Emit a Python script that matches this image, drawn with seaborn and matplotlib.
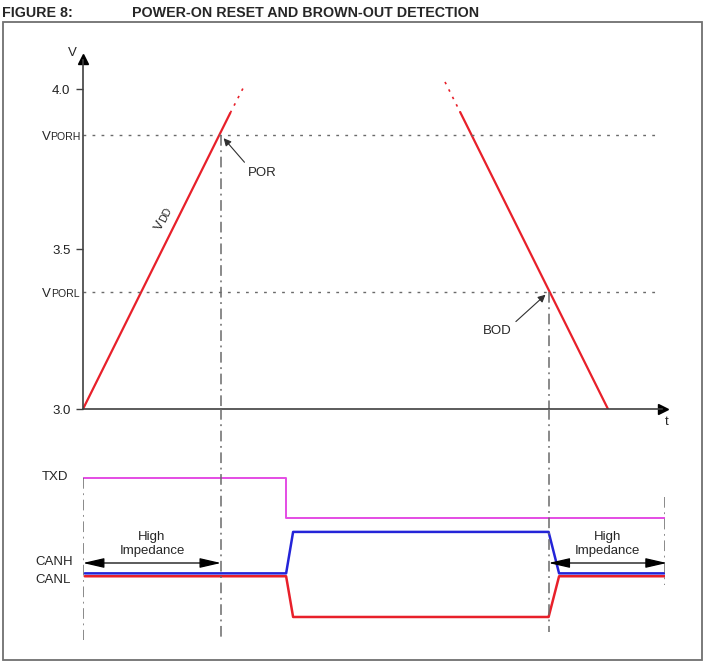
import numpy as np
import matplotlib.pyplot as plt
import seaborn as sns
from matplotlib.patches import Rectangle

# VDD ramp (time in arbitrary units, volts)
rise_t = [0.0, 2.53]
rise_v = [3.0, 3.925]
rise_dot_t = [2.53, 2.78]
rise_dot_v = [3.925, 4.013]
fall_dot_t = [6.22, 6.48]
fall_dot_v = [4.022, 3.928]
fall_t = [6.48, 9.02]
fall_v = [3.928, 3.0]

v_porh = 3.856
v_porl = 3.366
t_por = 2.37
t_bod = 8.0
v_ticks = [3.0, 3.5, 4.0]
v_labels = ['3.0', '3.5', '4.0']

# bus signals (level units)
txd_t = [0.0, 3.49, 3.49, 10.0]
txd_lvl = [7.14, 7.14, 5.48, 5.48]
can_t = [0.03, 3.49, 3.61, 8.0, 8.18, 10.0]
canh_lvl = [3.18, 3.18, 4.9, 4.9, 3.18, 3.18]
canl_lvl = [3.06, 3.06, 1.37, 1.37, 3.06, 3.06]

sns.set_theme(style='white')
plt.rcParams['font.family'] = ['Liberation Sans', 'DejaVu Sans']

RED = '#e8202a'
BLUE = '#2424d8'
MAG = '#e44ce4'
GREY = '#6a6a6a'
AXC = '#404040'
DASHDOT = (0, (7, 3, 1.2, 3))
DOTTED = (0, (2, 4.5))
FS = 9.5

fig = plt.figure(figsize=(7.05, 6.62), dpi=100)
ax = fig.add_axes([83 / 705, 253 / 662, 582 / 705, 354 / 662])
ax2 = fig.add_axes([83 / 705, 12 / 662, 582 / 705, 241 / 662])
for a in (ax, ax2):
    a.patch.set_visible(False)
    a.set_xlim(0, 10)

# ---- upper panel: supply voltage ----
ax.set_ylim(3.0, 4.10625)
sns.lineplot(x=rise_t, y=rise_v, ax=ax, color=RED, lw=1.6, estimator=None, sort=False)
sns.lineplot(x=fall_t, y=fall_v, ax=ax, color=RED, lw=1.6, estimator=None, sort=False)
sns.lineplot(x=rise_dot_t, y=rise_dot_v, ax=ax, color=RED, lw=1.2, ls=(0, (1.5, 3.5)),
             estimator=None, sort=False)
sns.lineplot(x=fall_dot_t, y=fall_dot_v, ax=ax, color=RED, lw=1.2, ls=(0, (1.5, 3.5)),
             estimator=None, sort=False)

ax.hlines([v_porh, v_porl], 0, 9.9, colors=GREY, lw=1, linestyles=[DOTTED])
ax.plot([t_por, t_por], [v_porh, 3.0], color=GREY, lw=1.1, ls=DASHDOT)
ax.plot([t_bod, t_bod], [v_porl, 3.0], color=GREY, lw=1.1, ls=DASHDOT)

for s in ['top', 'right']:
    ax.spines[s].set_visible(False)
for s in ['left', 'bottom']:
    ax.spines[s].set_color(AXC)
    ax.spines[s].set_linewidth(1.2)
ax.spines['left'].set_bounds(3.0, 4.09)
ax.spines['bottom'].set_bounds(0, 9.95)
ax.plot([0], [4.095], marker='^', ms=6.5, color='black', clip_on=False)
ax.plot([9.966], [3.0], marker='>', ms=6.5, color='black', clip_on=False)

ax.set_xticks([])
ax.set_yticks(v_ticks)
ax.set_yticklabels(v_labels)
ax.tick_params(axis='y', left=True, length=5, width=1, color=AXC, pad=4,
               labelsize=FS, labelcolor='#202020')
ax.set_xlabel('')
ax.set_ylabel('')

ax.annotate('V', xy=(0, 1), xycoords='axes fraction', xytext=(-7.5, 1.5),
            textcoords='offset points', ha='center', va='center', fontsize=FS)
ax.annotate('t', xy=(1, 0), xycoords='axes fraction', xytext=(1.5, -9.5),
            textcoords='offset points', ha='center', va='center', fontsize=FS)

for lvl, sub in [(v_porh, 'PORH'), (v_porl, 'PORL')]:
    ax.annotate(sub, xy=(0, lvl), xycoords=('axes fraction', 'data'), xytext=(-2, -3.4),
                textcoords='offset points', ha='right', va='baseline', fontsize=7.6)
    ax.annotate('V', xy=(0, lvl), xycoords=('axes fraction', 'data'), xytext=(-23.5, -3.4),
                textcoords='offset points', ha='right', va='baseline', fontsize=FS)

# VDD label along the rising edge
t_lab = 1.519
v_lab = np.interp(t_lab, rise_t, rise_v)
ax.annotate('V', xy=(t_lab, v_lab), xytext=(-7.6, 0), textcoords='offset points',
            ha='left', va='baseline', rotation=63.6, rotation_mode='anchor', fontsize=FS)
ax.annotate('DD', xy=(t_lab, v_lab), xytext=(-4.8, 5.7), textcoords='offset points',
            ha='left', va='baseline', rotation=63.6, rotation_mode='anchor', fontsize=7.6)

arrow = dict(arrowstyle='-|>', color='#303030', lw=0.8, mutation_scale=11, shrinkA=1, shrinkB=3)
ax.annotate('POR', xy=(t_por, v_porh), xytext=(30, -27), textcoords='offset points',
            ha='center', va='center', fontsize=FS,
            arrowprops=dict(arrow, relpos=(0.0, 1.0)))
ax.annotate('BOD', xy=(t_bod, v_porl), xytext=(-37, -28.5), textcoords='offset points',
            ha='center', va='center', fontsize=FS,
            arrowprops=dict(arrow, relpos=(1.0, 1.0)))

# ---- lower panel: bus signals ----
ax2.set_ylim(0, 10)
ax2.axis('off')
sns.lineplot(x=txd_t, y=txd_lvl, ax=ax2, color=MAG, lw=1.4, estimator=None, sort=False)
sns.lineplot(x=can_t, y=canl_lvl, ax=ax2, color=RED, lw=1.8, estimator=None, sort=False)
sns.lineplot(x=can_t, y=canh_lvl, ax=ax2, color=BLUE, lw=1.8, estimator=None, sort=False)

ax2.plot([0, 0], [txd_lvl[0], 0.41], color=GREY, lw=1.1, ls=DASHDOT)
ax2.plot([t_por, t_por], [10, 0.41], color=GREY, lw=1.1, ls=DASHDOT)
ax2.plot([t_bod, t_bod], [10, 0.75], color=GREY, lw=1.1, ls=DASHDOT)
ax2.plot([10, 10], [6.35, 2.7], color=GREY, lw=1.1, ls=DASHDOT)

ax2.text(-0.704, 7.18, 'TXD', ha='left', va='center', fontsize=FS)
ax2.text(-0.825, 3.65, 'CANH', ha='left', va='center', fontsize=FS)
ax2.text(-0.825, 2.90, 'CANL', ha='left', va='center', fontsize=FS)

harrow = dict(arrowstyle='<|-|>,head_length=1.3,head_width=0.3', color='black', lw=0.9,
              mutation_scale=10, shrinkA=0, shrinkB=0)
for t0, t1 in [(0.0, t_por), (t_bod, 10.03)]:
    ax2.annotate('', xy=(t1, 3.61), xytext=(t0, 3.61), arrowprops=harrow,
                 annotation_clip=False)
    ax2.text((t0 + t1) / 2, 4.40, 'High\nImpedance', ha='center', va='center',
             fontsize=FS, linespacing=1.2)

# ---- frame and title ----
fig.patches.append(Rectangle((3 / 705, 2 / 662), 699 / 705, 638 / 662, transform=fig.transFigure,
                             fill=False, edgecolor='#707070', lw=1.3))
fig.text(2 / 705, 1 - 17 / 662, 'FIGURE 8:', ha='left', va='baseline', fontsize=10.3,
         fontweight='bold')
fig.text(132 / 705, 1 - 17 / 662, 'POWER-ON RESET AND BROWN-OUT DETECTION', ha='left',
         va='baseline', fontsize=10.3, fontweight='bold')

fig.savefig('out.png', dpi=100)
